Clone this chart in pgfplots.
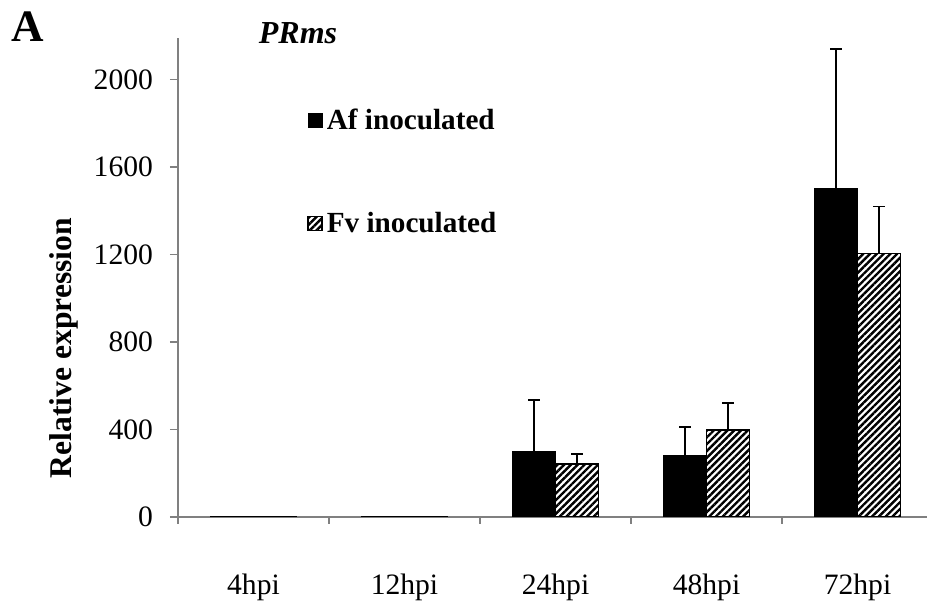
\documentclass[border=0pt]{standalone}
\usepackage{pgfplots}
\pgfplotsset{compat=1.18}
\usepackage{fontspec}
\setmainfont{Liberation Serif}
\usetikzlibrary{patterns.meta}
\begin{document}
\begin{tikzpicture}[font=\fontsize{14.8}{17.8}\selectfont]
\useasboundingbox (-89pt,-45.5pt) rectangle (374.5pt,258.5pt);
\begin{axis}[
  at={(0,0)}, anchor=south west,
  scale only axis, width=374.5pt, height=239.5pt,
  xmin=-0.5, xmax=4.46, ymin=0, ymax=2190,
  axis x line=bottom, axis y line=left,
  axis line style={-, draw=gray, line width=0.6pt},
  xtick={0,1,2,3,4},
  xticklabels={4hpi,12hpi,24hpi,48hpi,72hpi},
  x tick style={draw=none},
  minor xtick={-0.5,0.5,1.5,2.5,3.5},
  minor x tick style={draw=gray, line width=0.6pt},
  minor tick length=3.5pt,
  ytick={0,400,800,1200,1600,2000},
  y tick style={draw=gray, line width=0.6pt},
  major tick length=4pt,
  tick align=outside,
  /pgf/number format/assume math mode=true,
  /pgf/number format/1000 sep={},
  xticklabel style={anchor=north, yshift=-21pt},
  yticklabel style={anchor=east, xshift=-5pt},
  ybar, bar width=21.5pt,
  legend style={draw=none, fill=none, at={(rel axis cs:0.172,0.862)}, anchor=north west,
    font=\fontsize{14.6}{17.5}\selectfont\bfseries, row sep=36pt, inner sep=0pt},
  legend cell align=left,
  legend image code/.code={\draw[#1] (0pt,-3.5pt) rectangle (7pt,3.5pt);},
  error bars/y dir=plus,
  error bars/y explicit,
  error bars/error bar style={line width=0.8pt, black},
  error bars/error mark options={rotate=90, mark size=3pt, line width=0.8pt, black},
]
\addplot[bar shift=-10.75pt, fill=black, draw=black, line width=0.5pt]
  coordinates {(0,1) +- (0,1) (1,1) +- (0,1) (2,301) +- (0,233) (3,283) +- (0,128) (4,1502) +- (0,639)};
\addlegendentry{Af inoculated}
\addplot[bar shift=10.75pt, draw=black, line width=0.8pt, pattern={Lines[angle=45,distance=2.4pt,line width=1.2pt]}, pattern color=black]
  coordinates {(0,1) +- (0,1) (1,1) +- (0,1) (2,242) +- (0,46) (3,397) +- (0,123) (4,1205) +- (0,215)};
\addlegendentry{Fv inoculated}
\end{axis}
\node[font=\fontsize{22.5}{27}\selectfont\bfseries] at (-75pt,245pt) {A};
\node[font=\fontsize{16}{19}\selectfont\bfseries\itshape] at (60pt,242pt) {PRms};
\node[rotate=90, font=\fontsize{15.8}{19}\selectfont\bfseries] at (-57pt,84.5pt) {Relative expression};
\end{tikzpicture}
\end{document}
